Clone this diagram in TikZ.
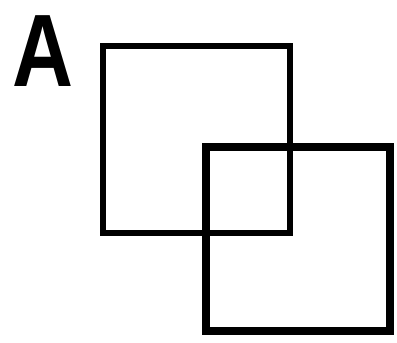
\documentclass[tikz,border=0pt]{standalone}
\usepackage{fontspec}
\setmainfont{Liberation Sans}
\usepackage{tikz}
\usetikzlibrary{
  calc,
  positioning
}
\tikzset{
  sqbox/.style={draw,inner sep=0,outer sep=0,minimum size=#1}
}

\begin{document}
\begin{tikzpicture}[x=1pt,y=-1pt]
                  \useasboundingbox (0,0) rectangle (397,343);
                  \node[anchor=base,inner sep=0,xscale=0.82,font=\fontsize{103}{103}\selectfont\bfseries] (L) at (43, 86) {A};
                  \node[sqbox=187pt,line width=6pt] (P) at (196.5, 139.5) {};
                  \node[sqbox=184pt,line width=8pt] (Q) at (297.5, 238.5) {};
                \end{tikzpicture}
\end{document}
